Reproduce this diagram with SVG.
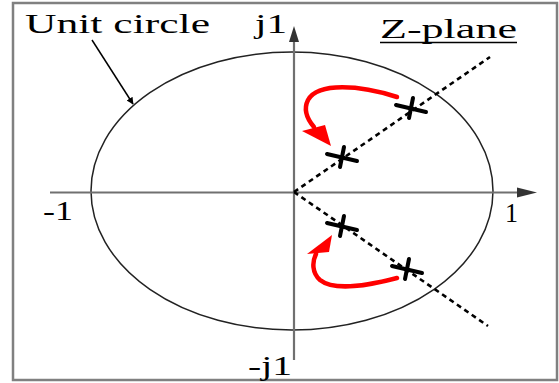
<svg xmlns="http://www.w3.org/2000/svg" width="559" height="383" viewBox="0 0 559 383">
<style>
.t{font-family:"Liberation Serif","Times New Roman",serif;font-size:27px;fill:#000}
.ax{stroke:#707070;stroke-width:2.2;fill:none}
.dash{stroke:#000;stroke-width:2.6;stroke-dasharray:5 4;fill:none}
.red{stroke:#f00;stroke-width:4.5;fill:none;stroke-linecap:round}
.cross line{stroke:#000;stroke-width:4;stroke-linecap:round}
</style>
<defs>
<g id="x" class="cross"><line x1="-15" y1="-3" x2="15" y2="4"/><line x1="2" y1="-10" x2="-2" y2="10"/></g>
<marker id="ah" viewBox="0 0 10 10" refX="9" refY="5" markerWidth="7" markerHeight="7" orient="auto" markerUnits="userSpaceOnUse"><path d="M0,0 L10,5 L0,10 z" fill="#000"/></marker>
</defs>
<rect x="13" y="3" width="544" height="377" fill="#fff" stroke="#808080" stroke-width="2.5"/>
<g id="unit-circle"><ellipse cx="292" cy="191" rx="201" ry="139" fill="none" stroke="#222" stroke-width="1.5"/></g>
<g id="connectors">
<line class="ax" x1="50" y1="192.5" x2="520" y2="192.5"/>
<polygon points="517,187.5 537,192.5 517,197.5" fill="#333"/>
<line class="ax" x1="294" y1="360" x2="294" y2="40"/>
<polygon points="289,42 294,26 299,42" fill="#333"/>
<line class="dash" x1="294" y1="192" x2="490" y2="57"/>
<line class="dash" x1="294" y1="192" x2="488" y2="326"/>
<line x1="92" y1="40" x2="133" y2="104" stroke="#000" stroke-width="1.5" marker-end="url(#ah)"/>
<path class="red" d="M397,97 C360,85 318,82 308,100 C303,110 308,120 314,127"/>
<polygon points="302,131 325,125 331,146" fill="#f00"/>
<path class="red" d="M397,278 C370,285 335,292 320,280 C312,273 312,262 316,254"/>
<polygon points="307,254 329,252 332,235" fill="#f00"/>
</g>
<g id="poles">
<use href="#x" x="411" y="108"/>
<use href="#x" x="342" y="157"/>
<use href="#x" x="342" y="226"/>
<use href="#x" x="407" y="269"/>
</g>
<g id="labels">
<text class="t" x="25" y="33" textLength="185" lengthAdjust="spacingAndGlyphs">Unit circle</text>
<text class="t" x="255" y="33" textLength="32" lengthAdjust="spacingAndGlyphs">j1</text>
<text class="t" x="380" y="38" textLength="137" lengthAdjust="spacingAndGlyphs">Z-plane</text>
<line x1="380" y1="42.5" x2="517" y2="42.5" stroke="#000" stroke-width="1.5"/>
<text class="t" x="43" y="220" textLength="30" lengthAdjust="spacingAndGlyphs">-1</text>
<text class="t" x="505" y="222" textLength="13" lengthAdjust="spacingAndGlyphs">1</text>
<text class="t" x="248" y="375" textLength="44" lengthAdjust="spacingAndGlyphs">-j1</text>
</g>
</svg>
